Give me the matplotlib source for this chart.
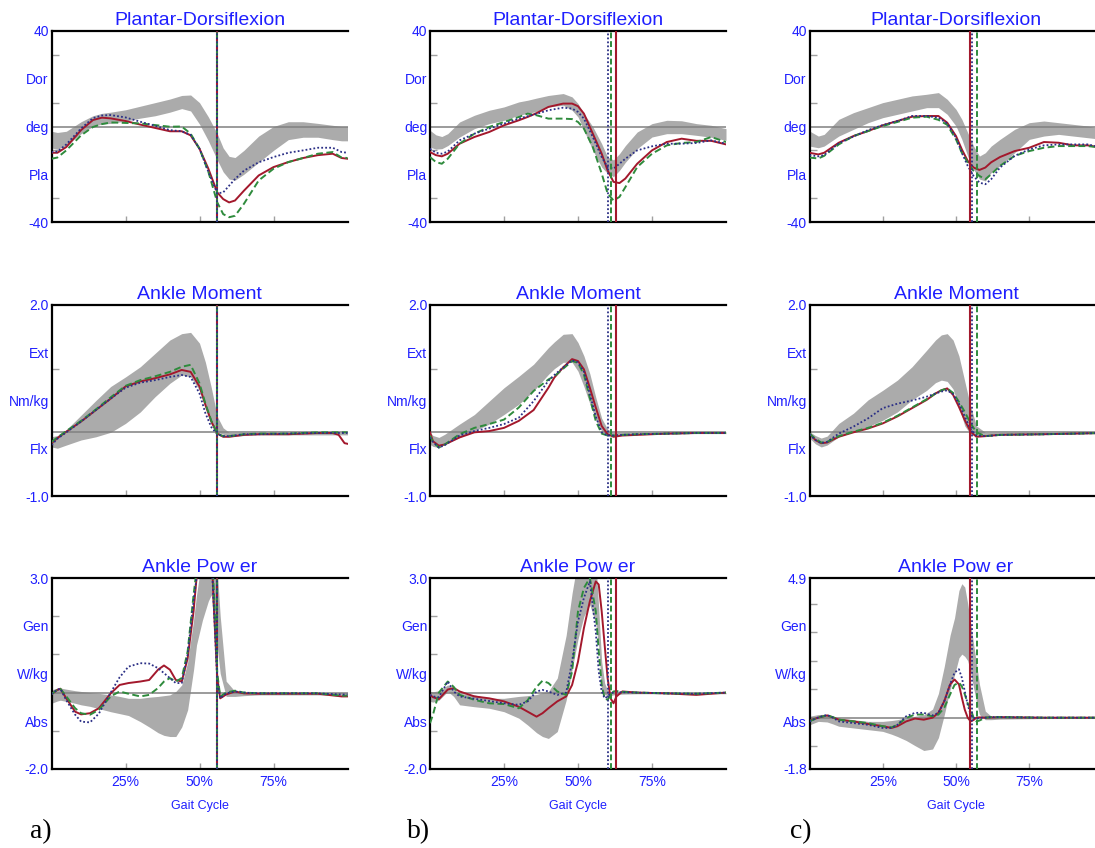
import matplotlib
matplotlib.use("Agg")
import matplotlib.pyplot as plt

# ---------------- data (percent of gait cycle vs value) ----------------
# column a) -- ankle plantar/dorsiflexion (deg)
pct_a1 = [0, 2, 5, 10, 14, 17, 20, 25, 30, 35, 40, 44, 47, 50, 53, 56, 58, 60, 62, 65, 70, 75, 80, 85, 90, 95, 98, 100]
band_lo_a1 = [-9, -9.5, -8, -3, 0, 1, 1.3, 2.3, 3.5, 4.5, 6, 7.5, 6.5, 1, -6, -14, -19, -22, -22.5, -20, -15, -10, -5.5, -4.5, -4.5, -5.5, -6, -6]
band_hi_a1 = [-2, -2.5, -2, 2, 4.5, 5.5, 6, 7, 8.5, 10, 11.5, 13, 13.2, 10, 4, -3, -9, -12.5, -13, -10, -4, 0, 2, 2, 1.3, 0.5, 0, 0]
red_a1 = [-11, -11, -8.6, -1.5, 2.7, 3.7, 3.4, 2.3, 0.8, -0.6, -2, -2, -3.7, -9.3, -17.7, -27.6, -30.4, -31.8, -31, -26.9, -20.5, -17, -14.9, -13.2, -12, -11.4, -13.2, -13.5]
grn_a1 = [-13.5, -13, -10, -3.7, -0.2, 1, 1.7, 1.5, 1.3, 0.6, -0.1, 0, -3, -9.3, -19, -31.8, -36.7, -38, -37.4, -32.4, -22.6, -17.7, -14.9, -13.2, -11.4, -10.7, -13, -13.2]
blu_a1 = [-10.7, -10.5, -7.5, -0.8, 3.5, 4.6, 4.8, 3.8, 2, 0.3, -1.5, -2, -3.5, -9.3, -19, -28, -27.6, -24.8, -22, -18.5, -15, -12.8, -11, -10, -8.9, -8.9, -10.7, -11]

# column a) -- ankle moment (Nm/kg)
pct_a2 = [0, 2, 5, 10, 15, 20, 25, 30, 35, 40, 44, 47, 50, 52, 54, 56, 58, 60, 65, 70, 80, 90, 95, 97, 99, 100]
band_lo_a2 = [-0.23, -0.25, -0.2, -0.12, -0.07, 0, 0.14, 0.32, 0.56, 0.77, 0.9, 0.87, 0.66, 0.4, 0.12, 0.0, -0.03, -0.07, -0.05, -0.04, -0.04, -0.04, -0.04, -0.04, -0.04, -0.04]
band_hi_a2 = [-0.07, -0.05, 0.04, 0.27, 0.5, 0.72, 0.87, 1.03, 1.24, 1.45, 1.55, 1.57, 1.4, 1.1, 0.7, 0.25, 0.07, 0.0, 0.0, 0.0, 0.0, 0.0, 0.0, 0.0, 0.0, 0.0]
red_a2 = [-0.17, -0.09, 0.01, 0.17, 0.35, 0.53, 0.72, 0.8, 0.85, 0.91, 0.98, 0.95, 0.72, 0.43, 0.17, -0.02, -0.07, -0.07, -0.04, -0.03, -0.03, -0.01, -0.01, -0.04, -0.17, -0.18]
grn_a2 = [-0.15, -0.08, 0.02, 0.18, 0.36, 0.55, 0.73, 0.82, 0.88, 0.95, 1.03, 1.06, 0.77, 0.45, 0.18, -0.02, -0.06, -0.06, -0.03, -0.02, -0.02, 0.0, 0.0, 0.0, 0.0, 0.0]
blu_a2 = [-0.2, -0.1, 0.0, 0.17, 0.35, 0.53, 0.7, 0.78, 0.82, 0.87, 0.9, 0.87, 0.61, 0.3, 0.08, -0.03, -0.06, -0.06, -0.03, -0.03, -0.02, -0.01, -0.01, -0.01, -0.01, -0.01]

# column a) -- ankle power (W/kg)
pct_a3 = [0, 2, 3, 5, 8, 10, 13, 16, 20, 23, 26, 30, 33, 36, 38, 40, 42, 44, 46, 48, 49, 51, 53, 54, 55, 56, 57, 59, 62, 65, 70, 80, 90, 98, 100]
band_lo_a3 = [-0.28, -0.22, -0.2, -0.23, -0.28, -0.32, -0.36, -0.42, -0.5, -0.55, -0.6, -0.76, -0.9, -1.05, -1.12, -1.15, -1.15, -0.9, -0.45, 0.6, 1.25, 1.9, 2.4, 2.56, 1.7, 1.2, 0.5, -0.1, -0.1, -0.08, -0.06, -0.06, -0.06, -0.06, -0.06]
band_hi_a3 = [0.07, 0.12, 0.12, 0.09, 0.05, 0.03, 0.0, -0.02, -0.06, -0.1, -0.15, -0.15, -0.12, -0.1, -0.08, -0.06, 0.03, 0.2, 0.8, 1.9, 2.56, 3.6, 4.2, 4.2, 3.8, 3.2, 2.0, 0.3, 0.03, 0.0, 0.0, 0.0, 0.0, 0.0, 0.0]
red_a3 = [-0.04, 0.07, 0.1, -0.15, -0.5, -0.57, -0.54, -0.41, -0.02, 0.2, 0.25, 0.29, 0.33, 0.6, 0.71, 0.6, 0.33, 0.29, 0.9, 2.13, 3.0, 4.2, 4.5, 3.8, 2.0, 0.4, -0.15, -0.05, 0.03, -0.02, -0.03, -0.03, -0.03, -0.1, -0.1]
grn_a3 = [-0.04, 0.08, 0.1, -0.1, -0.41, -0.54, -0.58, -0.45, -0.1, 0.03, -0.03, -0.1, -0.06, 0.12, 0.29, 0.38, 0.29, 0.38, 1.08, 2.56, 3.2, 4.3, 4.6, 4.0, 2.4, 0.5, -0.1, 0.0, 0.05, 0.0, -0.02, -0.02, -0.02, -0.08, -0.08]
blu_a3 = [-0.04, 0.08, 0.1, -0.2, -0.58, -0.76, -0.78, -0.55, 0.0, 0.4, 0.68, 0.77, 0.76, 0.64, 0.51, 0.38, 0.25, 0.25, 1.0, 2.4, 3.0, 4.1, 4.4, 3.6, 2.0, 0.3, -0.15, -0.02, 0.03, 0.0, -0.02, -0.02, -0.02, -0.05, -0.05]

# column b)
pct_b1 = [0, 2, 4, 6, 10, 15, 20, 25, 30, 33, 36, 40, 45, 48, 50, 52, 55, 58, 60, 62, 64, 66, 70, 75, 80, 85, 90, 95, 100]
band_lo_b1 = [-8.6, -9.5, -9.3, -8, -4.4, -0.9, 1.2, 2.6, 4.7, 5.5, 6.3, 8.2, 8.9, 6.8, 4, -1.6, -10, -17, -19.7, -21, -18.4, -15, -9.3, -4.4, -3, -3, -3.7, -4.5, -5.8]
band_hi_b1 = [-1.6, -3.5, -4.2, -3, 1.9, 4.7, 6.8, 8.2, 10.3, 11, 11.9, 13, 13.8, 12.4, 9.6, 5.4, -0.1, -7.2, -12.8, -14, -11.4, -8, -2.3, 1.2, 2.6, 2.4, 1.2, 0.5, -0.9]
red_b1 = [-10.7, -12, -12.5, -11.4, -7.2, -4.4, -2.3, 0.5, 2.6, 4, 5.6, 8.2, 9.6, 9.6, 8.5, 5.4, -3, -11.4, -18.4, -23.2, -23.7, -21.8, -15.6, -10, -6.5, -5.1, -6, -6, -7.5]
grn_b1 = [-12.8, -14.9, -15.6, -13.5, -7.2, -3, -0.2, 1.9, 4, 5.4, 4.7, 3.3, 3.3, 3.1, 1.9, -0.9, -8.6, -19.7, -28, -31, -29.5, -25.4, -17, -11.4, -7.9, -6.9, -6.5, -4.4, -6.5]
blu_b1 = [-9.3, -11, -11.4, -10.5, -5.8, -3, -0.9, 1.2, 3.3, 4.3, 5.3, 6.8, 7.9, 7.5, 6.1, 3.3, -4.4, -12.8, -17, -17.7, -15.6, -13.5, -10, -8.3, -7.2, -7.2, -6.9, -5.8, -7.2]

pct_b2 = [0, 1, 3, 5, 10, 15, 20, 25, 30, 35, 40, 42, 45, 48, 50, 52, 54, 56, 58, 60, 62, 65, 70, 80, 90, 100]
band_lo_b2 = [-0.19, -0.22, -0.24, -0.19, -0.08, 0.02, 0.13, 0.28, 0.44, 0.65, 0.91, 1.0, 1.1, 1.1, 0.96, 0.72, 0.45, 0.2, 0.02, -0.05, -0.05, -0.04, -0.03, -0.03, -0.02, -0.02]
band_hi_b2 = [0.0, -0.05, -0.08, -0.03, 0.13, 0.28, 0.49, 0.7, 0.88, 1.07, 1.33, 1.42, 1.54, 1.55, 1.41, 1.2, 0.92, 0.55, 0.22, 0.05, 0.0, 0.0, 0.0, 0.0, 0.01, 0.01]
red_b2 = [0.0, -0.14, -0.21, -0.19, -0.08, 0.0, 0.02, 0.07, 0.18, 0.35, 0.7, 0.86, 1.02, 1.15, 1.12, 0.99, 0.7, 0.39, 0.1, -0.03, -0.07, -0.05, -0.04, -0.02, -0.01, -0.01]
grn_b2 = [-0.05, -0.15, -0.24, -0.19, -0.03, 0.07, 0.13, 0.2, 0.39, 0.65, 0.83, 0.88, 1.0, 1.12, 1.09, 0.91, 0.54, 0.18, -0.02, -0.05, -0.05, -0.04, -0.03, -0.02, -0.01, -0.01]
blu_b2 = [-0.08, -0.15, -0.24, -0.2, -0.05, 0.02, 0.07, 0.13, 0.23, 0.49, 0.81, 0.9, 1.02, 1.13, 1.1, 0.95, 0.6, 0.25, 0.0, -0.05, -0.05, -0.04, -0.03, -0.02, -0.01, -0.01]

pct_b3 = [0, 1, 3, 6, 8, 10, 15, 20, 25, 30, 33, 36, 38, 40, 43, 46, 48, 50, 52, 54, 56, 57, 58, 59, 60, 61, 62, 63, 65, 70, 80, 90, 100]
band_lo_b3 = [-0.23, -0.25, -0.2, 0.03, -0.1, -0.32, -0.37, -0.41, -0.5, -0.67, -0.85, -1.05, -1.15, -1.2, -1.02, -0.2, 0.6, 1.4, 2.0, 2.3, 1.8, 1.2, 0.03, -0.05, -0.08, -0.08, -0.06, -0.05, -0.04, -0.03, -0.03, -0.03, -0.03]
band_hi_b3 = [0.03, 0.02, 0.05, 0.2, 0.1, -0.02, -0.06, -0.15, -0.15, -0.1, -0.08, -0.05, 0.0, 0.03, 0.38, 1.5, 2.6, 3.5, 4.0, 4.0, 3.5, 2.2, 0.81, 0.25, 0.05, 0.03, 0.02, 0.01, 0.0, 0.0, 0.0, 0.0, 0.0]
red_b3 = [-0.06, -0.12, -0.17, 0.08, 0.12, 0.03, -0.1, -0.15, -0.23, -0.37, -0.5, -0.63, -0.54, -0.41, -0.23, -0.1, 0.2, 0.81, 1.69, 2.39, 2.91, 2.83, 2.13, 1.25, 0.38, -0.15, -0.28, -0.1, 0.03, 0.0, -0.02, -0.06, 0.0]
grn_b3 = [-0.8, -0.58, 0.0, 0.29, 0.15, -0.06, -0.19, -0.28, -0.3, -0.41, -0.2, 0.15, 0.31, 0.25, 0.03, -0.06, 0.55, 2.13, 2.74, 3.0, 2.13, 1.08, 0.2, -0.15, -0.19, -0.05, 0.03, 0.04, 0.02, 0.0, -0.02, -0.03, 0.0]
blu_b3 = [-0.06, -0.1, -0.12, 0.29, 0.03, -0.1, -0.16, -0.22, -0.28, -0.32, -0.23, 0.03, 0.07, 0.03, -0.06, 0.0, 0.81, 1.86, 2.48, 2.91, 1.6, 0.55, 0.03, -0.15, -0.1, -0.02, 0.0, 0.01, 0.01, 0.0, -0.02, -0.03, 0.0]

# column c)
pct_c1 = [0, 3, 5, 10, 15, 20, 25, 30, 35, 40, 44, 47, 50, 52, 54, 56, 58, 60, 62, 65, 70, 75, 80, 85, 90, 95, 100]
band_lo_c1 = [-8.2, -8.9, -8.2, -4, -1.2, 1.6, 3.7, 5.1, 6.5, 7.9, 7.9, 5.1, 0.2, -5.4, -12.4, -17.9, -22, -22.8, -19.3, -16.5, -11, -5.4, -4, -3.3, -4, -4.7, -5.4]
band_hi_c1 = [-1.9, -4, -3.3, 3, 5.8, 7.9, 10, 11.4, 12.8, 13.5, 14.2, 11.4, 7.2, 3, -2.6, -8.2, -12.4, -11, -8.2, -5.4, -1.2, 1.6, 2.3, 1.6, 0.9, 0.2, -1.2]
red_c1 = [-11, -11.7, -11, -6.8, -4, -1.9, 0.5, 2.3, 4.1, 4.4, 4.4, 1.6, -4, -9.6, -14.4, -17.2, -18.2, -17.2, -15, -12.8, -10.3, -8.9, -6.5, -6.8, -7.9, -7.9, -8.9]
grn_c1 = [-13, -13.4, -12.3, -7.5, -4, -1.9, 0.2, 1.9, 3.7, 4.1, 2.8, 0.7, -5.4, -11, -15.1, -18.6, -20.7, -22.1, -20, -16.5, -12.3, -10.3, -8.9, -8.2, -8.2, -8.2, -8.9]
blu_c1 = [-12, -12.5, -12, -7, -4.2, -1.5, 0.6, 2.3, 4.4, 4.4, 3.7, 1.3, -4.7, -11, -16.5, -20.7, -23.5, -24.2, -22.1, -17.2, -12.3, -9.6, -7.9, -7.5, -7.5, -7.5, -8.9]

pct_c2 = [0, 2, 4, 6, 10, 15, 20, 25, 30, 35, 40, 43, 45, 47, 49, 51, 53, 55, 57, 60, 65, 80, 100]
band_lo_c2 = [-0.09, -0.18, -0.23, -0.2, -0.07, 0.01, 0.09, 0.19, 0.32, 0.51, 0.66, 0.78, 0.82, 0.8, 0.68, 0.4, 0.1, -0.03, -0.06, -0.05, -0.04, -0.03, -0.02]
band_hi_c2 = [0.01, -0.05, -0.09, -0.06, 0.14, 0.3, 0.51, 0.66, 0.82, 1.03, 1.29, 1.45, 1.53, 1.55, 1.45, 1.2, 0.8, 0.4, 0.1, 0.0, 0.0, 0.0, 0.0]
red_c2 = [-0.02, -0.12, -0.17, -0.16, -0.07, 0.0, 0.06, 0.14, 0.25, 0.38, 0.51, 0.61, 0.66, 0.69, 0.59, 0.4, 0.19, 0.01, -0.07, -0.06, -0.04, -0.03, -0.01]
grn_c2 = [-0.02, -0.1, -0.16, -0.15, -0.06, 0.01, 0.07, 0.15, 0.26, 0.39, 0.52, 0.61, 0.66, 0.69, 0.62, 0.48, 0.32, 0.14, 0.0, -0.06, -0.04, -0.03, -0.01]
blu_c2 = [-0.03, -0.12, -0.17, -0.15, -0.02, 0.09, 0.22, 0.38, 0.45, 0.5, 0.56, 0.61, 0.64, 0.66, 0.6, 0.45, 0.25, 0.05, -0.05, -0.06, -0.04, -0.03, -0.01]

pct_c3 = [0, 3, 6, 8, 10, 15, 20, 25, 28, 30, 33, 36, 39, 42, 44, 46, 48, 49.5, 51, 52, 53, 54, 55, 56, 57, 58, 60, 62, 65, 80, 100]
band_lo_c3 = [-0.25, -0.13, -0.15, -0.22, -0.3, -0.36, -0.42, -0.48, -0.58, -0.66, -0.8, -0.98, -1.15, -1.1, -0.7, 0.1, 1.0, 1.5, 2.1, 2.23, 2.15, 2.0, 1.6, 1.05, 0.55, 0.11, -0.07, -0.07, -0.05, -0.03, -0.03]
band_hi_c3 = [0.05, 0.11, 0.12, 0.05, -0.01, -0.07, -0.13, -0.13, -0.1, -0.07, 0.0, 0.05, 0.1, 0.3, 0.85, 1.8, 2.9, 3.5, 4.46, 4.7, 4.58, 4.0, 3.3, 2.58, 1.9, 1.17, 0.23, 0.05, 0.02, 0.0, 0.0]
red_c3 = [-0.1, 0.0, 0.08, 0.01, -0.07, -0.13, -0.22, -0.3, -0.36, -0.3, -0.13, -0.03, -0.07, 0.0, 0.17, 0.58, 1.17, 1.34, 1.17, 0.7, 0.28, 0.0, -0.13, -0.08, 0.0, 0.01, 0.0, 0.01, 0.02, 0.0, 0.0]
grn_c3 = [-0.13, 0.01, 0.08, 0.02, -0.07, -0.13, -0.19, -0.3, -0.34, -0.25, -0.01, 0.11, 0.11, 0.05, 0.11, 0.35, 0.82, 1.15, 1.23, 1.1, 0.82, 0.5, 0.3, 0.0, -0.13, -0.1, 0.0, 0.02, 0.02, 0.0, 0.0]
blu_c3 = [-0.13, 0.01, 0.1, 0.0, -0.13, -0.19, -0.25, -0.36, -0.36, -0.25, 0.05, 0.17, 0.17, 0.08, 0.17, 0.58, 1.17, 1.58, 1.7, 1.4, 0.93, 0.45, 0.1, 0.0, -0.05, 0.0, 0.0, 0.02, 0.02, 0.0, 0.0]

# toe-off events (% gait cycle): red, green, blue
toe_off_a = [56, 56, 56]
toe_off_b = [63, 61, 60]
toe_off_c = [54.7, 57.2, 55.3]

titles = ["Plantar-Dorsiflexion", "Ankle Moment", "Ankle Pow er"]
ylims = [(-40, 40), (-1.0, 2.0), (-2.0, 3.0)]
ylims_c3 = (-1.8, 4.9)
ywords = [["Pla", "deg", "Dor"], ["Flx", "Nm/kg", "Ext"], ["Abs", "W/kg", "Gen"]]
yend_fmt = ["{:.0f}", "{:.1f}", "{:.1f}"]
yminor_step = [10, 1, 1]
xtick_pos = [25, 50, 75]
xtick_lab = ["25%", "50%", "75%"]
panel_tags = ["a)", "b)", "c)"]

# ---------------- drawing ----------------
BLUE = "#1f1fff"
RED = "#a3182c"
GREEN = "#2e8b3c"
NAVY = "#2b2f86"
BAND = "#ababab"

plt.rcParams['font.family'] = ['Liberation Sans', 'DejaVu Sans']

W, H = 1095, 848
fig = plt.figure(figsize=(W / 100, H / 100), dpi=100)

col_left = [51.5, 430, 809.5]
col_width = [296, 296, 293]
row_top = [31, 305, 578]
ax_h = 191

panels = {
    (0, 0): (pct_a1, band_lo_a1, band_hi_a1, red_a1, grn_a1, blu_a1),
    (1, 0): (pct_a2, band_lo_a2, band_hi_a2, red_a2, grn_a2, blu_a2),
    (2, 0): (pct_a3, band_lo_a3, band_hi_a3, red_a3, grn_a3, blu_a3),
    (0, 1): (pct_b1, band_lo_b1, band_hi_b1, red_b1, grn_b1, blu_b1),
    (1, 1): (pct_b2, band_lo_b2, band_hi_b2, red_b2, grn_b2, blu_b2),
    (2, 1): (pct_b3, band_lo_b3, band_hi_b3, red_b3, grn_b3, blu_b3),
    (0, 2): (pct_c1, band_lo_c1, band_hi_c1, red_c1, grn_c1, blu_c1),
    (1, 2): (pct_c2, band_lo_c2, band_hi_c2, red_c2, grn_c2, blu_c2),
    (2, 2): (pct_c3, band_lo_c3, band_hi_c3, red_c3, grn_c3, blu_c3),
}
toe_offs = [toe_off_a, toe_off_b, toe_off_c]

for (r, c), (pct, lo, hi, red, grn, blu) in panels.items():
    rect = [col_left[c] / W, 1 - (row_top[r] + ax_h) / H, col_width[c] / W, ax_h / H]
    ax = fig.add_axes(rect)
    y0, y1 = ylims_c3 if (r, c) == (2, 2) else ylims[r]

    ax.fill_between(pct, lo, hi, color=BAND, lw=0, zorder=1)
    ax.axhline(0, color="#808080", lw=1.1, zorder=2)
    ax.plot(pct, red, color=RED, lw=1.4, zorder=4)
    ax.plot(pct, grn, color=GREEN, lw=1.4, ls=(0, (3.5, 1.8)), zorder=4)
    ax.plot(pct, blu, color=NAVY, lw=1.3, ls=(0, (1, 1.2)), zorder=5)

    t_red, t_grn, t_blu = toe_offs[c]
    ax.axvline(t_red, color=RED, lw=1.5, zorder=6)
    ax.axvline(t_grn, color=GREEN, lw=1.4, ls=(0, (3, 1.5)), zorder=6)
    ax.axvline(t_blu, color=NAVY, lw=1.3, ls=(0, (1, 1.2)), zorder=7)

    ax.set_xlim(0, 100)
    ax.set_ylim(y0, y1)

    span = y1 - y0
    ypos = [y0, y0 + 0.25 * span, y0 + 0.5 * span, y0 + 0.75 * span, y1]
    ylab = [yend_fmt[r].format(y0)] + ywords[r] + [yend_fmt[r].format(y1)]
    ax.set_yticks(ypos)
    ax.set_yticklabels(ylab)
    step = yminor_step[r]
    k0 = int(y0 // step) + 1
    k1 = int(y1 // step)
    ax.set_yticks([k * step for k in range(k0, k1 + 1) if k != 0], minor=True)
    ax.tick_params(axis="y", which="major", length=0, pad=2, labelsize=10, labelcolor=BLUE)
    ax.tick_params(axis="y", which="minor", direction="in", length=5, width=1, color="#a0a0a0")

    ax.set_xticks(xtick_pos)
    if r == 2:
        ax.set_xticklabels(xtick_lab)
        ax.set_xlabel("Gait Cycle", color=BLUE, fontsize=9, labelpad=8)
    else:
        ax.set_xticklabels([])
    ax.tick_params(axis="x", direction="in", length=4, width=1, color="#a0a0a0",
                   labelsize=10, labelcolor=BLUE, pad=4)

    for side in ["top", "left", "bottom"]:
        ax.spines[side].set_linewidth(1.6)
        ax.spines[side].set_color("black")
    ax.spines["right"].set_visible(False)

    ax.set_title(titles[r], color=BLUE, fontsize=14, pad=4)

tag_x = [30, 407, 790]
for c in range(3):
    fig.text(tag_x[c] / W, 1 - 832 / H, panel_tags[c], fontsize=20,
             family=["Liberation Serif", "DejaVu Serif"], va="center", ha="left")

fig.savefig("out.png", dpi=100)
